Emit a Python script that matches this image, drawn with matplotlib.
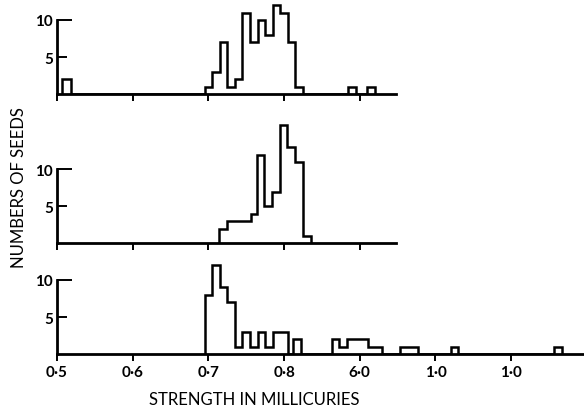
import matplotlib
matplotlib.use("Agg")
import matplotlib.pyplot as plt

# ---- data ----
edges_top = [0.507, 0.518, 0.695, 0.705, 0.715, 0.725, 0.735, 0.745, 0.755, 0.765,
             0.775, 0.785, 0.795, 0.805, 0.815, 0.825, 0.884, 0.895, 0.909, 0.920]
counts_top = [2, 0, 1, 3, 7, 1, 2, 11, 7, 10, 8, 12, 11, 7, 1, 0, 1, 0, 1]

edges_mid = [0.714, 0.724, 0.7565, 0.764, 0.774, 0.784, 0.794, 0.804, 0.814, 0.825, 0.836]
counts_mid = [2, 3, 4, 12, 5, 7, 16, 13, 11, 1]

edges_bot = [0.695, 0.705, 0.715, 0.725, 0.735, 0.745, 0.755, 0.765, 0.775, 0.785,
             0.795, 0.805, 0.812, 0.822, 0.863, 0.873, 0.883, 0.911, 0.929, 0.953,
             0.977, 1.020, 1.030, 1.157, 1.167]
counts_bot = [8, 12, 9, 7, 1, 3, 1, 3, 1, 3, 3, 0, 2, 0, 2, 1, 2, 1, 0, 1, 0, 1, 0, 1]

xticks_small = [0.5, 0.6, 0.7, 0.8, 0.9]
xticks_bot = [0.5, 0.6, 0.7, 0.8, 0.9, 1.0, 1.1]
xticklabels_bot = ["0·5", "0·6", "0·7", "0·8", "6·0", "1·0", "1·0"]
yticks = [5, 10]
yticklabels = ["5", "10"]
xlabel = "STRENGTH IN MILLICURIES"
ylabel = "NUMBERS OF SEEDS"

# ---- layout ----
W, H = 584, 410
PX_PER_UNIT_X = 757.0
PX_PER_COUNT = 7.4
FONT = ["Lato", "DejaVu Sans"]

fig = plt.figure(figsize=(W / 100, H / 100), dpi=100)
fig.patch.set_facecolor("white")


def make_axes(left, right, base, ymax):
    top = base - ymax * PX_PER_COUNT
    ax = fig.add_axes([left / W, 1 - base / H, (right - left) / W, (base - top) / H])
    ax.set_xlim(0.5, 0.5 + (right - left) / PX_PER_UNIT_X)
    ax.set_ylim(0, ymax)
    ax.patch.set_alpha(0)
    for s in ("top", "right"):
        ax.spines[s].set_visible(False)
    ax.spines["left"].set_bounds(0, 10)
    ax.spines["left"].set_linewidth(2.0)
    ax.spines["bottom"].set_linewidth(2.0)
    ax.set_yticks(yticks)
    ax.set_yticklabels(yticklabels, fontsize=11, family=FONT, fontweight="bold")
    ax.tick_params(axis="y", direction="in", length=8, width=1.4, pad=3)
    ax.tick_params(axis="x", direction="out", length=5, width=1.4, pad=3)
    ticks = ax.yaxis.get_major_ticks()
    ticks[0].tick1line.set_markersize(7)
    ticks[1].tick1line.set_markersize(11)
    return ax


ax1 = make_axes(57, 396, 95, 12.5)
ax2 = make_axes(57, 396, 244.3, 17)
ax3 = make_axes(57, 584, 355, 12.5)

for ax, e, c in ((ax1, edges_top, counts_top), (ax2, edges_mid, counts_mid), (ax3, edges_bot, counts_bot)):
    ax.stairs(c, e, baseline=0, color="black", linewidth=1.8, fill=False)

for ax in (ax1, ax2):
    ax.set_xticks(xticks_small)
    ax.set_xticklabels([])

ax3.set_xticks(xticks_bot)
ax3.set_xticklabels(xticklabels_bot, fontsize=11, family=FONT, fontweight="bold")

fig.text(254 / W, 1 - 400 / H, xlabel, ha="center", va="center",
         fontsize=12, family=FONT)
fig.text(19 / W, 1 - 188 / H, ylabel, rotation=90, ha="center", va="center",
         fontsize=12, family=FONT)

fig.savefig("out.png", dpi=100, facecolor="white")
